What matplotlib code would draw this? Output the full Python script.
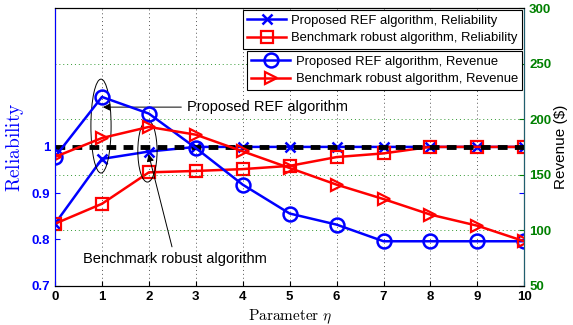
import matplotlib
matplotlib.use('Agg')
import matplotlib.pyplot as plt
from matplotlib.patches import Ellipse

plt.rcParams['font.family'] = ['Liberation Sans', 'DejaVu Sans']
plt.rcParams['mathtext.fontset'] = 'cm'

# данные
eta = [0, 1, 2, 3, 4, 5, 6, 7, 8, 9, 10]
rel_ref = [0.834, 0.974, 0.990, 1.0, 1.0, 1.0, 1.0, 1.0, 1.0, 1.0, 1.0]
rel_bench = [0.834, 0.877, 0.945, 0.948, 0.952, 0.959, 0.978, 0.986, 1.0, 1.0, 1.0]
rev_ref = [166, 220, 205, 174, 141, 115, 105, 90, 90, 90, 90]
rev_bench = [166, 183, 193, 186, 171, 156, 141, 128, 114, 104, 90]
requirement = 1.0

blue = '#0000ff'
red = '#ff0000'
green = '#008000'

fig = plt.figure(figsize=(5.73, 3.25), dpi=100)
ax = fig.add_axes([0.096, 0.121, 0.819, 0.854])
ax2 = ax.twinx()

l1, = ax.plot(eta, rel_ref, color=blue, marker='x', ms=7, mew=1.8, lw=1.8,
              label='Proposed REF algorithm, Reliability')
l2, = ax.plot(eta, rel_bench, color=red, marker='s', ms=8, mfc='none', mew=1.6, lw=1.8,
              label='Benchmark robust algorithm, Reliability')
ax.plot([eta[0], eta[-1]], [requirement, requirement], color='k', ls=(0, (2, 1.5)), lw=3.5, zorder=5)

l3, = ax2.plot(eta, rev_ref, color=blue, marker='o', ms=10, mfc='none', mew=1.8, lw=1.8,
               label='Proposed REF algorithm, Revenue')
l4, = ax2.plot(eta, rev_bench, color=red, marker='>', ms=9, mfc='none', mew=1.6, lw=1.8,
               label='Benchmark robust algorithm, Revenue')

ax.set_xlim(0, 10)
ax.set_ylim(0.7, 1.3)
ax.set_yticks([0.7, 0.8, 0.9, 1.0])
ax.set_yticklabels(['0.7', '0.8', '0.9', '1'])
ax.set_xticks(eta)
ax2.set_ylim(50, 300)
ax2.set_yticks([50, 100, 150, 200, 250, 300])

ax.tick_params(axis='y', colors=blue, direction='in', labelsize=9.5, right=True)
ax.tick_params(axis='x', direction='in', labelsize=9.5)
ax2.tick_params(axis='y', colors=green, direction='in', labelsize=9.5)
for lab in ax.get_xticklabels() + ax.get_yticklabels() + ax2.get_yticklabels():
    lab.set_fontweight('bold')
ax2.spines['left'].set_color(blue)
ax2.spines['right'].set_color('#1f5f6f')

# сетка
for x in eta[1:-1]:
    ax.axvline(x, color='#555555', ls=(0, (1, 3)), lw=0.7, zorder=0)
for y in [100, 150, 200, 250]:
    ax2.axhline(y, color=green, ls=(0, (1, 3)), lw=0.7, alpha=0.8, zorder=0)

ax.set_ylabel(r'$\mathrm{Reliability}$', color=blue, fontsize=14, labelpad=4)
ax2.set_ylabel('Revenue ($)', fontsize=11, labelpad=2)
ax.set_xlabel(r'$\mathrm{Parameter}\ \eta$', fontsize=11)

leg1 = ax2.legend(handles=[l1, l2], loc='upper right', bbox_to_anchor=(0.996, 0.993),
                  fontsize=9.4, fancybox=False, edgecolor='k', framealpha=1,
                  handlelength=3, borderpad=0.35, labelspacing=0.4, borderaxespad=0,
                  handletextpad=0.4)
leg1.get_frame().set_linewidth(0.8)
ax2.add_artist(leg1)
leg2 = ax2.legend(handles=[l3, l4], loc='upper right', bbox_to_anchor=(0.996, 0.845),
                  fontsize=9.4, fancybox=False, edgecolor='k', framealpha=1,
                  handlelength=3, borderpad=0.35, labelspacing=0.4, borderaxespad=0,
                  handletextpad=0.4)
leg2.get_frame().set_linewidth(0.8)

# аннотации
ax.add_patch(Ellipse((0.98, 1.045), 0.43, 0.203, fill=False, ec='k', lw=0.7, zorder=6))
ax.add_patch(Ellipse((1.97, 0.991), 0.41, 0.134, fill=False, ec='k', lw=0.7, zorder=6))
ax.annotate('Proposed REF algorithm', xy=(0.96, 1.086), xytext=(2.81, 1.086),
            va='center', ha='left', fontsize=10.5,
            arrowprops=dict(arrowstyle='-|>', color='k', lw=0.7), zorder=7)
ax.annotate('Benchmark robust algorithm', xy=(1.98, 0.99), xytext=(2.56, 0.757),
            va='center', ha='center', fontsize=10.5,
            arrowprops=dict(arrowstyle='-|>', color='k', lw=0.7), zorder=7)

fig.savefig('out.png', dpi=100)
